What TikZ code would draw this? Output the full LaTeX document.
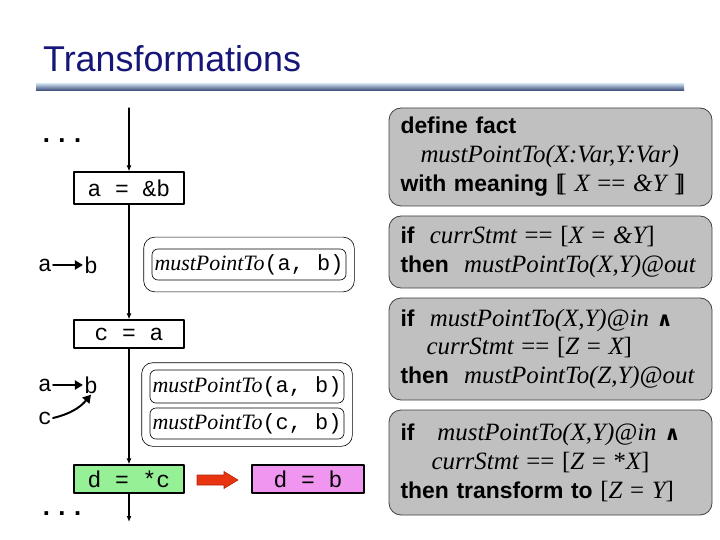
\documentclass[tikz,border=0pt]{standalone}
\usepackage{fontspec}
\usepackage{tikz}
\usetikzlibrary{arrows.meta,fit}
\setmainfont{Liberation Sans}
\newfontfamily\codefont{Liberation Mono}
\newfontfamily\timesfont{Liberation Serif}
\newfontfamily\dejavu{DejaVu Sans}
\newcommand{\ti}[1]{{\timesfont\mdseries\itshape\fontsize{25}{29}\selectfont #1}}
\newcommand{\tu}[1]{{\timesfont\mdseries\upshape\fontsize{25}{29}\selectfont #1}}
\newcommand{\mpt}{{\timesfont\itshape mustPointTo}}
\newcommand{\andsym}{{\dejavu\bfseries\fontsize{20}{29}\selectfont ∧}}
\definecolor{titleblue}{RGB}{22,22,120}
\definecolor{rulelight}{RGB}{190,210,228}
\definecolor{ruledark}{RGB}{50,64,110}
\definecolor{rulegray}{RGB}{192,192,192}
\definecolor{pgreen}{RGB}{150,240,150}
\definecolor{ppink}{RGB}{240,150,240}
\definecolor{pred}{RGB}{232,52,16}

\begin{document}
\begin{tikzpicture}[x=1bp, y=-1bp, line cap=round, line join=round,
    stmt/.style={draw, line width=1.2pt, minimum width=110bp, minimum height=28bp,
        inner sep=0pt, font=\codefont\fontsize{23}{24}\selectfont},
    fact/.style={draw, rounded corners=6bp, line width=0.6pt, inner sep=0pt,
        minimum width=194bp, minimum height=31bp, font=\fontsize{22}{24}\selectfont},
    factset/.style={draw, rounded corners=11bp, line width=0.6pt},
    rule/.style={draw=black!75, fill=rulegray, rounded corners=12bp, line width=0.8pt,
        text width=300bp, align=left, inner xsep=11.5bp, inner ysep=0pt,
        font=\bfseries\fontsize{23}{29}\selectfont},
    var/.style={font=\codefont\fontsize{23}{24}\selectfont, inner sep=1pt},
    dots/.style={font=\codefont\bfseries\fontsize{26}{26}\selectfont, anchor=base, inner sep=0pt},
    flow/.style={line width=1.2pt, -{Latex[length=6bp,width=5bp]}},
    ptr/.style={line width=2pt, -{Triangle[length=8bp,width=9bp]}}]
    \useasboundingbox (0,0) rectangle (720,540);

    % title
    \node[anchor=base west, inner sep=0pt, text=titleblue,
        font=\fontsize{36}{40}\selectfont] (title) at (43,72) {Transformations};
    \shade[top color=rulelight, bottom color=ruledark] (36,84) rectangle (684,91);

    % program
    \coordinate (top) at (129,108);
    \node[dots] (dots1) at (62,143) {...};
    \node[stmt, minimum height=32bp] (s1) at (129,188) {a = \&b};
    \node[stmt] (s2) at (129,334) {c = a};
    \node[stmt, fill=pgreen] (s3) at (129,479) {d = *c};
    \node[stmt, fill=ppink, minimum width=112bp] (s4) at (308,479) {d = b};
    \node[dots] (dots2) at (62,515) {...};
    \coordinate (bot) at (129,522);
    \draw[flow] (top) -- (s1);
    \draw[flow] (s1) -- (s2);
    \draw[flow] (s2) -- (s3);
    \draw[flow] (s3) -- (bot);
    % transformation arrow
    \filldraw[fill=pred, draw=pred!75!black, line width=0.6pt]
        (197,475) -- (224,475) -- (224,471.5) -- (238,480) -- (224,488.5)
        -- (224,485) -- (197,485) -- cycle;

    % points-to graphs
    \node[var] (a1) at (45,265) {a};
    \node[var] (b1) at (91,265) {b};
    \draw[ptr] (a1) -- (b1);
    \node[var] (a2) at (45,385) {a};
    \node[var] (b2) at (91,385) {b};
    \node[var] (c2) at (45,418) {c};
    \draw[ptr] (a2) -- (b2);
    \draw[ptr] (c2.east) to[bend right=18] (b2.south);

    % facts
    \node[fact] (f1) at (249,264.5) {\mpt{\codefont(a, b)}};
    \node[factset, fit=(f1), inner xsep=8bp, inner ysep=11.5bp] (fs1) {};
    \node[fact, minimum height=33bp] (f2) at (247,386.5) {\mpt{\codefont(a, b)}};
    \node[fact] (f3) at (247,423.5) {\mpt{\codefont(c, b)}};
    \node[factset, fit=(f2)(f3), inner xsep=8bp, inner ysep=7bp] (fs2) {};

    % analysis rules
    \node[rule, minimum height=98bp] (r1) at (550.5,157) {define fact\\
        \hspace*{20bp}\ti{mustPointTo(X:Var,Y:Var)}\\
        with meaning \tu{[\kern-.22em[} \ti{X} \tu{==} \ti{\&Y} \tu{]\kern-.22em]}};
    \node[rule, minimum height=72bp] (r2) at (550.5,252) {if \ti{ currStmt} \tu{== [}\ti{X}
        \tu{=} \ti{\&Y}\tu{]}\\
        then \ti{ mustPointTo(X,Y)@out}};
    \node[rule, minimum height=102bp] (r3) at (550.5,349) {if \ti{ mustPointTo(X,Y)@in} \andsym\\
        \hspace*{26bp}\ti{currStmt} \tu{== [}\ti{Z} \tu{=} \ti{X}\tu{]}\\
        then \ti{ mustPointTo(Z,Y)@out}};
    \node[rule, minimum height=105bp] (r4) at (550.5,462.5) {if \ti{ \ mustPointTo(X,Y)@in} \andsym\\
        \hspace*{31bp}\ti{currStmt} \tu{== [}\ti{Z} \tu{= *}\ti{X}\tu{]}\\
        then transform to \tu{[}\ti{Z} \tu{=} \ti{Y}\tu{]}};
\end{tikzpicture}
\end{document}
